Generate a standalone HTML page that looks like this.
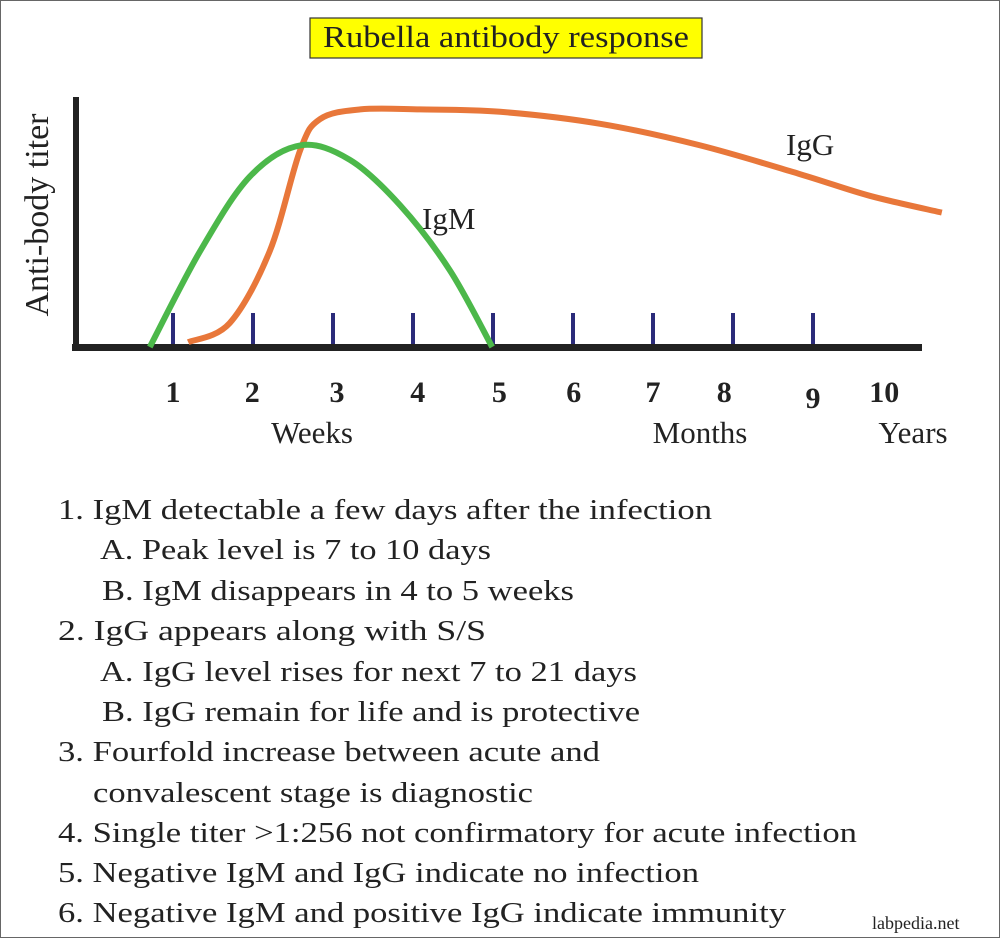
<!DOCTYPE html>
<html><head><meta charset="utf-8"><style>
html,body{margin:0;padding:0;background:#fff}
svg{display:block}
text{font-family:"Liberation Serif",serif;fill:#222}
</style></head><body>
<svg width="1000" height="938" viewBox="0 0 1000 938">
<rect x="0.5" y="0.5" width="999" height="937" fill="#fff" stroke="#666"/>
<g>
<rect x="310" y="18" width="392" height="40" fill="#ffff00" stroke="#333" stroke-width="1.2"/>
<text x="506" y="47" font-size="31" text-anchor="middle" textLength="366" lengthAdjust="spacingAndGlyphs">Rubella antibody response</text>
</g>
<text transform="translate(48,215) rotate(-90)" font-size="34" text-anchor="middle">Anti-body titer</text>
<g id="ticks"></g>
<rect x="73" y="97" width="6" height="254" fill="#222"/>
<rect x="72" y="344" width="850" height="7" fill="#222"/>
<g id="curves"></g>
<g id="labels" font-weight="bold" font-size="30"></g>
<text x="312" y="443" font-size="31" text-anchor="middle">Weeks</text>
<text x="700" y="443" font-size="31" text-anchor="middle">Months</text>
<text x="913" y="443" font-size="31" text-anchor="middle">Years</text>
<text x="786" y="155" font-size="31">IgG</text>
<text x="422" y="229" font-size="31">IgM</text>
<g font-size="29">
<text x="58" y="519" textLength="654" lengthAdjust="spacingAndGlyphs">1. IgM detectable a few days after the infection</text>
<text x="100" y="559" textLength="391" lengthAdjust="spacingAndGlyphs">A. Peak level is 7 to 10 days</text>
<text x="102" y="600" textLength="472" lengthAdjust="spacingAndGlyphs">B. IgM disappears in 4 to 5 weeks</text>
<text x="58" y="640" textLength="428" lengthAdjust="spacingAndGlyphs">2. IgG appears along with S/S</text>
<text x="100" y="681" textLength="537" lengthAdjust="spacingAndGlyphs">A. IgG level rises for next 7 to 21 days</text>
<text x="102" y="721" textLength="538" lengthAdjust="spacingAndGlyphs">B. IgG remain for life and is protective</text>
<text x="58" y="761" textLength="542" lengthAdjust="spacingAndGlyphs">3. Fourfold increase between acute and</text>
<text x="93" y="802" textLength="440" lengthAdjust="spacingAndGlyphs">convalescent stage is diagnostic</text>
<text x="58" y="842" textLength="799" lengthAdjust="spacingAndGlyphs">4. Single titer &gt;1:256 not confirmatory for acute infection</text>
<text x="58" y="882" textLength="641" lengthAdjust="spacingAndGlyphs">5. Negative IgM and IgG indicate no infection</text>
<text x="58" y="922" textLength="728" lengthAdjust="spacingAndGlyphs">6. Negative IgM and positive IgG indicate immunity</text>
</g>
<text x="872" y="929" font-size="18">labpedia.net</text>
</svg>
<script>
const tickUnits=[1,2,3,4,5,6,7,8,9];
const labelText=["1","2","3","4","5","6","7","8","9","10"];
const labelUnits=[1,1.99,3.05,4.06,5.08,6.01,7,7.89,9,9.89];
const labelDy=[0,0,0,0,0,0,0,0,6,0];
const igmU=[0.71,1.34,1.96,2.59,3.21,3.84,4.46,4.99];
const igmV=[0,40,71,84,78,59,32,0];
const iggU=[1.19,1.71,2.21,2.59,2.84,3.34,4.09,5.09,6.34,7.59,8.84,9.71,10.61];
const iggV=[2,10,40,82,95,99,99,98,93,84,72,63,56];
const NS="http://www.w3.org/2000/svg";
function xs(u){return 173+(u-1)*80;}
function ys(v){return 347-v*2.4;}
function path(U,V){
  const p=U.map((u,i)=>[xs(u),ys(V[i])]);
  let d="M"+p[0][0]+","+p[0][1];
  for(let i=0;i<p.length-1;i++){
    const p0=p[i-1]||p[i],p1=p[i],p2=p[i+1],p3=p[i+2]||p2;
    const c1=[p1[0]+(p2[0]-p0[0])/6,p1[1]+(p2[1]-p0[1])/6];
    const c2=[p2[0]-(p3[0]-p1[0])/6,p2[1]-(p3[1]-p1[1])/6];
    d+=" C"+c1+" "+c2+" "+p2;
  }
  return d;
}
const tg=document.getElementById("ticks");
tickUnits.forEach(u=>{
  const r=document.createElementNS(NS,"rect");
  r.setAttribute("x",xs(u)-2);r.setAttribute("y",313);r.setAttribute("width",4);r.setAttribute("height",34);r.setAttribute("fill","#2b2b7a");
  
  
  tg.appendChild(r);
});
const cg=document.getElementById("curves");
[[iggU,iggV,"#e8773a","igg-curve"],[igmU,igmV,"#4cb84a","igm-curve"]].forEach(s=>{
  const p=document.createElementNS(NS,"path");
  p.setAttribute("d",path(s[0],s[1]));p.setAttribute("fill","none");p.setAttribute("stroke",s[2]);p.setAttribute("stroke-width",6);
  
  
  cg.appendChild(p);
});
const lg=document.getElementById("labels");
labelText.forEach((t,i)=>{
  const e=document.createElementNS(NS,"text");
  e.setAttribute("x",xs(labelUnits[i]));e.setAttribute("y",402+labelDy[i]);e.setAttribute("text-anchor","middle");
  e.textContent=t;
  
  
  lg.appendChild(e);
});
</script>
</body></html>
